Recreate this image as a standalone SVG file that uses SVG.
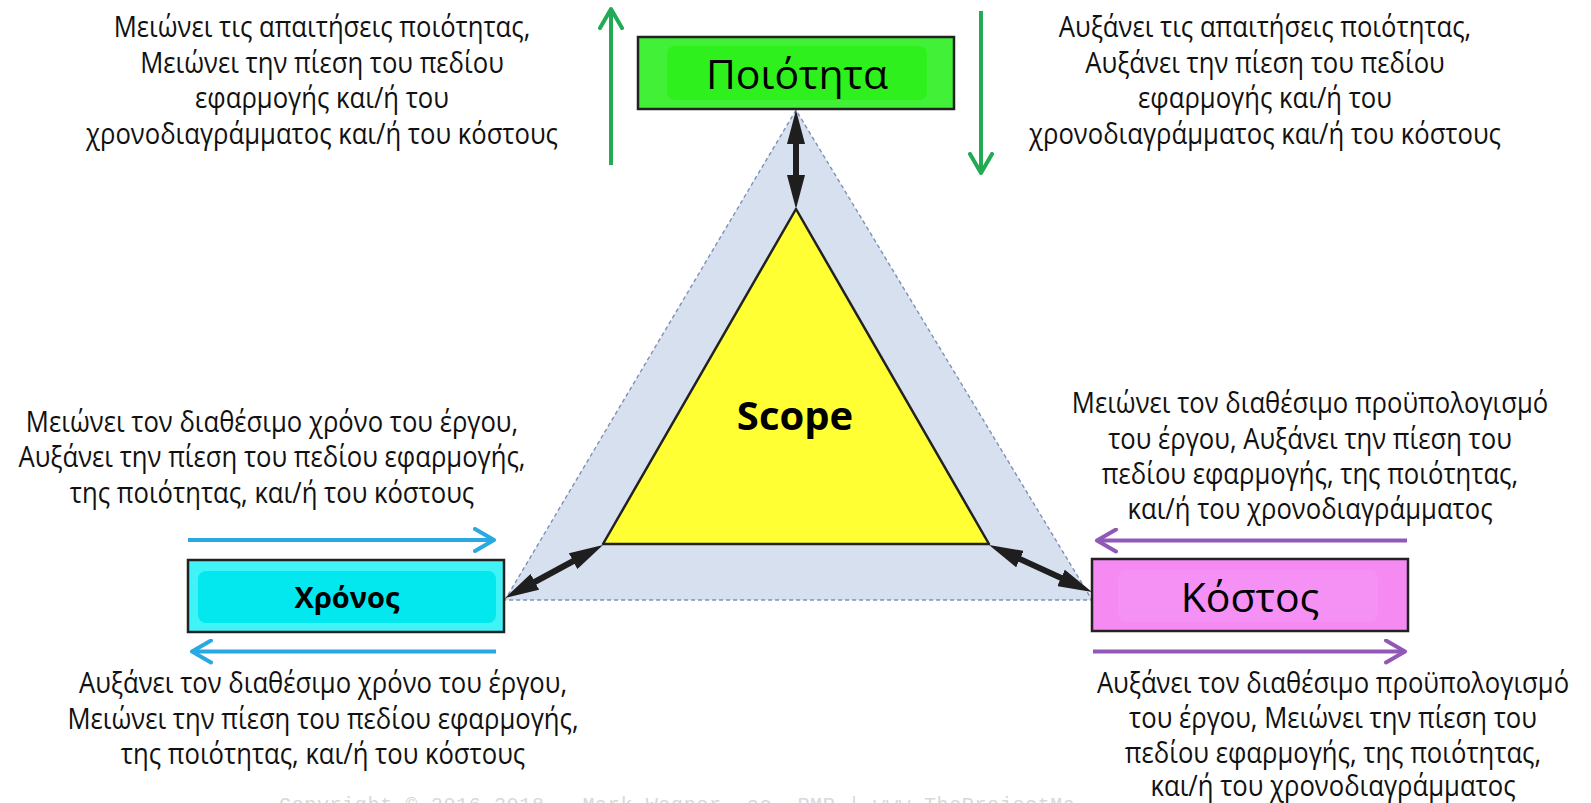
<svg xmlns="http://www.w3.org/2000/svg" width="1591" height="803" viewBox="0 0 1591 803">
<style>
.t{font-family:"Open Sans","Noto Sans",sans-serif;font-size:29px;fill:#111;text-anchor:middle}
.big{font-family:"Open Sans","Noto Sans",sans-serif;font-size:41px;fill:#000;text-anchor:middle}
.bold{font-family:"Open Sans","Noto Sans",sans-serif;font-weight:700;fill:#000;text-anchor:middle}
.box{stroke:#222;stroke-width:2.5}
.dbl{stroke:#1e1e1e;stroke-width:6;fill:none}
.g{stroke:#22AA55;stroke-width:4;fill:none}
.b{stroke:#2AA8E2;stroke-width:4;fill:none}
.p{stroke:#9159B5;stroke-width:4;fill:none}
</style>
<defs>
<marker id="mk" markerUnits="userSpaceOnUse" viewBox="0 0 34 18" markerWidth="34" markerHeight="18" refX="14" refY="9" orient="auto-start-reverse"><path d="M0,0 L34,9 L0,18 Z" fill="#1e1e1e"/></marker>
<marker id="cg" markerUnits="userSpaceOnUse" viewBox="0 0 26 26" markerWidth="26" markerHeight="26" refX="21" refY="13" orient="auto"><path d="M2,2 L21,13 L2,24" fill="none" stroke="#22AA55" stroke-width="4" stroke-linecap="round" stroke-linejoin="round"/></marker>
<marker id="cb" markerUnits="userSpaceOnUse" viewBox="0 0 26 26" markerWidth="26" markerHeight="26" refX="21" refY="13" orient="auto"><path d="M2,2 L21,13 L2,24" fill="none" stroke="#2AA8E2" stroke-width="4" stroke-linecap="round" stroke-linejoin="round"/></marker>
<marker id="cp" markerUnits="userSpaceOnUse" viewBox="0 0 26 26" markerWidth="26" markerHeight="26" refX="21" refY="13" orient="auto"><path d="M2,2 L21,13 L2,24" fill="none" stroke="#9159B5" stroke-width="4" stroke-linecap="round" stroke-linejoin="round"/></marker>
</defs>
<rect width="1591" height="803" fill="#fff"/>

<g id="scope-area">
<polygon points="796,110 505,600 1092,600" fill="#D7E0EE" stroke="#7E90B6" stroke-width="1.4" stroke-dasharray="4 3"/>
</g>
<g id="scope">
<polygon points="796,209 603,544 989,544" fill="#FFFF33" stroke="#222" stroke-width="2.5" stroke-linejoin="round"/>
<text class="bold" x="795" y="430" font-size="40">Scope</text>
</g>

<g id="quality">
<rect class="box" x="638" y="37" width="316" height="72" fill="#42F038"/>
<rect x="667" y="46" width="260" height="54" rx="8" fill="#2EF01C"/>
<text class="big" x="797" y="89">Ποιότητα</text>
</g>
<g id="time">
<rect class="box" x="188" y="560" width="316" height="72" fill="#3FF3F7"/>
<rect x="198" y="571" width="298" height="52" rx="8" fill="#03E8EE"/>
<text class="bold" x="347" y="608" font-size="29">Χρόνος</text>
</g>
<g id="cost">
<rect class="box" x="1092" y="559" width="316" height="72" fill="#F48AF2"/>
<rect x="1118" y="570" width="260" height="52" rx="8" fill="#F590F4"/>
<text class="big" x="1250" y="612">Κόστος</text>
</g>

<g id="connectors">
<line class="dbl" x1="796" y1="130" x2="796" y2="189" marker-start="url(#mk)" marker-end="url(#mk)"/>
<line class="dbl" x1="522.6" y1="588.5" x2="585.4" y2="554.5" marker-start="url(#mk)" marker-end="url(#mk)"/>
<line class="dbl" x1="1007.2" y1="553.3" x2="1073.8" y2="583.7" marker-start="url(#mk)" marker-end="url(#mk)"/>
<line class="g" x1="611" y1="165" x2="611" y2="9" marker-end="url(#cg)"/>
<line class="g" x1="981" y1="11" x2="981" y2="173" marker-end="url(#cg)"/>
<line class="b" x1="188" y1="540" x2="494" y2="540" marker-end="url(#cb)"/>
<line class="b" x1="496" y1="651.5" x2="192" y2="651.5" marker-end="url(#cb)"/>
<line class="p" x1="1407" y1="540.5" x2="1097" y2="540.5" marker-end="url(#cp)"/>
<line class="p" x1="1093" y1="651.5" x2="1405" y2="651.5" marker-end="url(#cp)"/>
</g>

<g id="text-quality-down" transform="translate(322,0) scale(0.885,1)">
<text class="t" x="0" y="37.5">Μειώνει τις απαιτήσεις ποιότητας,</text>
<text class="t" x="0" y="73">Μειώνει την πίεση του πεδίου</text>
<text class="t" x="0" y="108.5">εφαρμογής και/ή του</text>
<text class="t" x="0" y="144">χρονοδιαγράμματος και/ή του κόστους</text>
</g>
<g id="text-quality-up" transform="translate(1265,0) scale(0.885,1)">
<text class="t" x="0" y="37.5">Αυξάνει τις απαιτήσεις ποιότητας,</text>
<text class="t" x="0" y="73">Αυξάνει την πίεση του πεδίου</text>
<text class="t" x="0" y="108.5">εφαρμογής και/ή του</text>
<text class="t" x="0" y="144">χρονοδιαγράμματος και/ή του κόστους</text>
</g>
<g id="text-time-down" transform="translate(272,0) scale(0.885,1)">
<text class="t" x="0" y="432">Μειώνει τον διαθέσιμο χρόνο του έργου,</text>
<text class="t" x="0" y="467.5">Αυξάνει την πίεση του πεδίου εφαρμογής,</text>
<text class="t" x="0" y="503">της ποιότητας, και/ή του κόστους</text>
</g>
<g id="text-cost-down" transform="translate(1310,0) scale(0.885,1)">
<text class="t" x="0" y="413.5">Μειώνει τον διαθέσιμο προϋπολογισμό</text>
<text class="t" x="0" y="449">του έργου, Αυξάνει την πίεση του</text>
<text class="t" x="0" y="484.5">πεδίου εφαρμογής, της ποιότητας,</text>
<text class="t" x="0" y="519.5">και/ή του χρονοδιαγράμματος</text>
</g>
<g id="text-time-up" transform="translate(323,0) scale(0.885,1)">
<text class="t" x="0" y="693.5">Αυξάνει τον διαθέσιμο χρόνο του έργου,</text>
<text class="t" x="0" y="729">Μειώνει την πίεση του πεδίου εφαρμογής,</text>
<text class="t" x="0" y="764.5">της ποιότητας, και/ή του κόστους</text>
</g>
<g id="text-cost-up" transform="translate(1333,0) scale(0.885,1)">
<text class="t" x="0" y="693">Αυξάνει τον διαθέσιμο προϋπολογισμό</text>
<text class="t" x="0" y="728">του έργου, Μειώνει την πίεση του</text>
<text class="t" x="0" y="763">πεδίου εφαρμογής, της ποιότητας,</text>
<text class="t" x="0" y="796.5">και/ή του χρονοδιαγράμματος</text>
</g>
<text x="279" y="811" font-family="Liberation Mono, monospace" font-size="20" fill="#D9D9D9" textLength="796">Copyright © 2016-2018 - Mark Wegner, cc, PMP | www.TheProjectMa</text>
</svg>
